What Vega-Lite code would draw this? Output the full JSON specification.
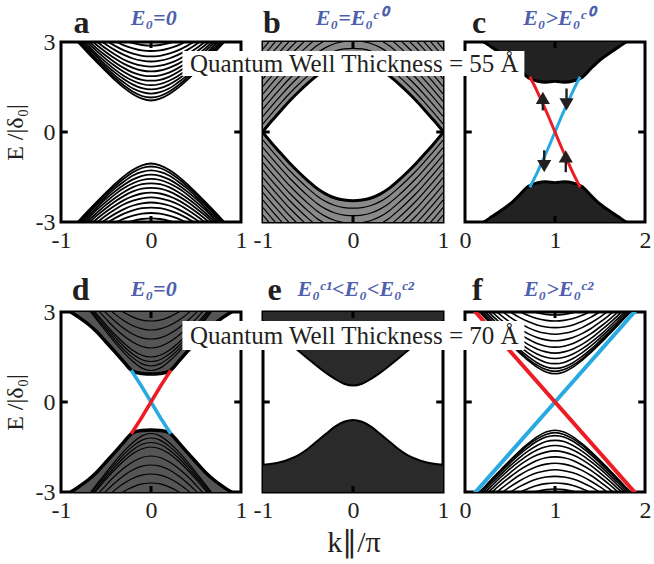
{
"$schema":"https://vega.github.io/schema/vega-lite/v6.json",
"background":"white",
"padding":{"left":1,"top":5,"right":0,"bottom":0},
"config":{
 "view":{"stroke":"black","strokeWidth":3},
 "font":"Liberation Serif",
 "axis":{"ticks":false,"domain":false,"grid":false,"labelFont":"Liberation Serif","labelFontSize":24,"labelColor":"#231f20","labelPadding":6,"labelFlush":false,"labelOverlap":false,"titleFont":"Liberation Serif","titleFontSize":24,"titleFontWeight":"normal","titleColor":"#231f20","titlePadding":8}
},
"datasets":{
"a":[
{"k":-0.9,"c0":3.28,"c1":3.31,"v0":-3.28,"v1":-3.31},
{"k":-0.8,"c0":2.95,"c1":2.99,"c2":3.04,"c3":3.1,"c4":3.17,"c5":3.25,"v0":-2.95,"v1":-2.99,"v2":-3.04,"v3":-3.1,"v4":-3.17,"v5":-3.25},
{"k":-0.7,"c0":2.63,"c1":2.68,"c2":2.73,"c3":2.8,"c4":2.88,"c5":2.96,"c6":3.05,"c7":3.15,"v0":-2.63,"v1":-2.68,"v2":-2.73,"v3":-2.8,"v4":-2.88,"v5":-2.96,"v6":-3.05,"v7":-3.15},
{"k":-0.6,"c0":2.32,"c1":2.37,"c2":2.43,"c3":2.51,"c4":2.59,"c5":2.69,"c6":2.78,"c7":2.89,"c8":3.01,"c9":3.13,"v0":-2.32,"v1":-2.37,"v2":-2.43,"v3":-2.51,"v4":-2.59,"v5":-2.69,"v6":-2.78,"v7":-2.89,"v8":-3.01,"v9":-3.13},
{"k":-0.5,"c0":2.02,"c1":2.07,"c2":2.15,"c3":2.23,"c4":2.33,"c5":2.43,"c6":2.54,"c7":2.66,"c8":2.78,"c9":2.92,"c10":3.05,"v0":-2.02,"v1":-2.07,"v2":-2.15,"v3":-2.23,"v4":-2.33,"v5":-2.43,"v6":-2.54,"v7":-2.66,"v8":-2.78,"v9":-2.92,"v10":-3.05},
{"k":-0.4,"c0":1.73,"c1":1.8,"c2":1.88,"c3":1.98,"c4":2.08,"c5":2.2,"c6":2.32,"c7":2.45,"c8":2.58,"c9":2.73,"c10":2.87,"c11":3.03,"v0":-1.73,"v1":-1.8,"v2":-1.88,"v3":-1.98,"v4":-2.08,"v5":-2.2,"v6":-2.32,"v7":-2.45,"v8":-2.58,"v9":-2.73,"v10":-2.87,"v11":-3.03},
{"k":-0.3,"c0":1.47,"c1":1.55,"c2":1.65,"c3":1.76,"c4":1.87,"c5":2,"c6":2.13,"c7":2.27,"c8":2.41,"c9":2.57,"c10":2.72,"c11":2.89,"c12":3.06,"v0":-1.47,"v1":-1.55,"v2":-1.65,"v3":-1.76,"v4":-1.87,"v5":-2,"v6":-2.13,"v7":-2.27,"v8":-2.41,"v9":-2.57,"v10":-2.72,"v11":-2.89,"v12":-3.06},
{"k":-0.2,"c0":1.26,"c1":1.34,"c2":1.45,"c3":1.58,"c4":1.71,"c5":1.84,"c6":1.98,"c7":2.14,"c8":2.29,"c9":2.45,"c10":2.61,"c11":2.79,"c12":2.96,"v0":-1.26,"v1":-1.34,"v2":-1.45,"v3":-1.58,"v4":-1.71,"v5":-1.84,"v6":-1.98,"v7":-2.14,"v8":-2.29,"v9":-2.45,"v10":-2.61,"v11":-2.79,"v12":-2.96},
{"k":-0.1,"c0":1.11,"c1":1.2,"c2":1.33,"c3":1.46,"c4":1.6,"c5":1.74,"c6":1.89,"c7":2.05,"c8":2.21,"c9":2.38,"c10":2.54,"c11":2.72,"c12":2.9,"v0":-1.11,"v1":-1.2,"v2":-1.33,"v3":-1.46,"v4":-1.6,"v5":-1.74,"v6":-1.89,"v7":-2.05,"v8":-2.21,"v9":-2.38,"v10":-2.54,"v11":-2.72,"v12":-2.9},
{"k":0,"c0":1.05,"c1":1.15,"c2":1.28,"c3":1.42,"c4":1.56,"c5":1.71,"c6":1.86,"c7":2.02,"c8":2.18,"c9":2.35,"c10":2.52,"c11":2.7,"c12":2.88,"v0":-1.05,"v1":-1.15,"v2":-1.28,"v3":-1.42,"v4":-1.56,"v5":-1.71,"v6":-1.86,"v7":-2.02,"v8":-2.18,"v9":-2.35,"v10":-2.52,"v11":-2.7,"v12":-2.88},
{"k":0.1,"c0":1.11,"c1":1.2,"c2":1.33,"c3":1.46,"c4":1.6,"c5":1.74,"c6":1.89,"c7":2.05,"c8":2.21,"c9":2.38,"c10":2.54,"c11":2.72,"c12":2.9,"v0":-1.11,"v1":-1.2,"v2":-1.33,"v3":-1.46,"v4":-1.6,"v5":-1.74,"v6":-1.89,"v7":-2.05,"v8":-2.21,"v9":-2.38,"v10":-2.54,"v11":-2.72,"v12":-2.9},
{"k":0.2,"c0":1.26,"c1":1.34,"c2":1.45,"c3":1.58,"c4":1.71,"c5":1.84,"c6":1.98,"c7":2.14,"c8":2.29,"c9":2.45,"c10":2.61,"c11":2.79,"c12":2.96,"v0":-1.26,"v1":-1.34,"v2":-1.45,"v3":-1.58,"v4":-1.71,"v5":-1.84,"v6":-1.98,"v7":-2.14,"v8":-2.29,"v9":-2.45,"v10":-2.61,"v11":-2.79,"v12":-2.96},
{"k":0.3,"c0":1.47,"c1":1.55,"c2":1.65,"c3":1.76,"c4":1.87,"c5":2,"c6":2.13,"c7":2.27,"c8":2.41,"c9":2.57,"c10":2.72,"c11":2.89,"c12":3.06,"v0":-1.47,"v1":-1.55,"v2":-1.65,"v3":-1.76,"v4":-1.87,"v5":-2,"v6":-2.13,"v7":-2.27,"v8":-2.41,"v9":-2.57,"v10":-2.72,"v11":-2.89,"v12":-3.06},
{"k":0.4,"c0":1.73,"c1":1.8,"c2":1.88,"c3":1.98,"c4":2.08,"c5":2.2,"c6":2.32,"c7":2.45,"c8":2.58,"c9":2.73,"c10":2.87,"c11":3.03,"v0":-1.73,"v1":-1.8,"v2":-1.88,"v3":-1.98,"v4":-2.08,"v5":-2.2,"v6":-2.32,"v7":-2.45,"v8":-2.58,"v9":-2.73,"v10":-2.87,"v11":-3.03},
{"k":0.5,"c0":2.02,"c1":2.07,"c2":2.15,"c3":2.23,"c4":2.33,"c5":2.43,"c6":2.54,"c7":2.66,"c8":2.78,"c9":2.92,"c10":3.05,"v0":-2.02,"v1":-2.07,"v2":-2.15,"v3":-2.23,"v4":-2.33,"v5":-2.43,"v6":-2.54,"v7":-2.66,"v8":-2.78,"v9":-2.92,"v10":-3.05},
{"k":0.6,"c0":2.32,"c1":2.37,"c2":2.43,"c3":2.51,"c4":2.59,"c5":2.69,"c6":2.78,"c7":2.89,"c8":3.01,"c9":3.13,"v0":-2.32,"v1":-2.37,"v2":-2.43,"v3":-2.51,"v4":-2.59,"v5":-2.69,"v6":-2.78,"v7":-2.89,"v8":-3.01,"v9":-3.13},
{"k":0.7,"c0":2.63,"c1":2.68,"c2":2.73,"c3":2.8,"c4":2.88,"c5":2.96,"c6":3.05,"c7":3.15,"v0":-2.63,"v1":-2.68,"v2":-2.73,"v3":-2.8,"v4":-2.88,"v5":-2.96,"v6":-3.05,"v7":-3.15},
{"k":0.8,"c0":2.95,"c1":2.99,"c2":3.04,"c3":3.1,"c4":3.17,"c5":3.25,"v0":-2.95,"v1":-2.99,"v2":-3.04,"v3":-3.1,"v4":-3.17,"v5":-3.25},
{"k":0.9,"c0":3.28,"c1":3.31,"v0":-3.28,"v1":-3.31}
],
"b":[
{"k":-1,"v0":-0.02,"v1":-0.27,"v2":-0.52,"v3":-0.77,"v4":-1.02,"v5":-1.27,"v6":-1.52,"v7":-1.77,"v8":-2.02,"v9":-2.27,"v10":-2.52,"v11":-2.77,"c0":0.02,"c1":0.27,"c2":0.52,"c3":0.77,"c4":1.02,"c5":1.27,"c6":1.52,"c7":1.77,"c8":2.02,"c9":2.27,"c10":2.52,"c11":2.77},
{"k":-0.9,"v0":-0.38,"v1":-0.63,"v2":-0.88,"v3":-1.13,"v4":-1.38,"v5":-1.63,"v6":-1.88,"v7":-2.13,"v8":-2.38,"v9":-2.63,"v10":-2.88,"v11":-3.13,"c0":0.38,"c1":0.63,"c2":0.88,"c3":1.13,"c4":1.38,"c5":1.63,"c6":1.88,"c7":2.13,"c8":2.38,"c9":2.63,"c10":2.88,"c11":3.13},
{"k":-0.8,"v0":-0.72,"v1":-0.97,"v2":-1.22,"v3":-1.47,"v4":-1.72,"v5":-1.97,"v6":-2.22,"v7":-2.47,"v8":-2.72,"v9":-2.97,"v10":-3.22,"c0":0.72,"c1":0.97,"c2":1.22,"c3":1.47,"c4":1.72,"c5":1.97,"c6":2.22,"c7":2.47,"c8":2.72,"c9":2.97,"c10":3.22},
{"k":-0.7,"v0":-1.05,"v1":-1.3,"v2":-1.55,"v3":-1.8,"v4":-2.05,"v5":-2.3,"v6":-2.55,"v7":-2.8,"v8":-3.05,"v9":-3.3,"c0":1.05,"c1":1.3,"c2":1.55,"c3":1.8,"c4":2.05,"c5":2.3,"c6":2.55,"c7":2.8,"c8":3.05,"c9":3.3},
{"k":-0.6,"v0":-1.35,"v1":-1.6,"v2":-1.85,"v3":-2.1,"v4":-2.35,"v5":-2.6,"v6":-2.85,"v7":-3.1,"c0":1.35,"c1":1.6,"c2":1.85,"c3":2.1,"c4":2.35,"c5":2.6,"c6":2.85,"c7":3.1},
{"k":-0.5,"v0":-1.63,"v1":-1.88,"v2":-2.13,"v3":-2.38,"v4":-2.63,"v5":-2.88,"v6":-3.13,"c0":1.63,"c1":1.88,"c2":2.13,"c3":2.38,"c4":2.63,"c5":2.88,"c6":3.13},
{"k":-0.4,"v0":-1.88,"v1":-2.13,"v2":-2.38,"v3":-2.63,"v4":-2.88,"v5":-3.13,"c0":1.88,"c1":2.13,"c2":2.38,"c3":2.63,"c4":2.88,"c5":3.13},
{"k":-0.3,"v0":-2.07,"v1":-2.32,"v2":-2.57,"v3":-2.82,"v4":-3.07,"c0":2.07,"c1":2.32,"c2":2.57,"c3":2.82,"c4":3.07},
{"k":-0.2,"v0":-2.2,"v1":-2.45,"v2":-2.7,"v3":-2.95,"c0":2.2,"c1":2.45,"c2":2.7,"c3":2.95},
{"k":-0.1,"v0":-2.27,"v1":-2.52,"v2":-2.77,"v3":-3.02,"c0":2.27,"c1":2.52,"c2":2.77,"c3":3.02},
{"k":0,"v0":-2.29,"v1":-2.54,"v2":-2.79,"c0":2.29,"c1":2.54,"c2":2.79},
{"k":0.1,"v0":-2.27,"v1":-2.52,"v2":-2.77,"v3":-3.02,"c0":2.27,"c1":2.52,"c2":2.77,"c3":3.02},
{"k":0.2,"v0":-2.2,"v1":-2.45,"v2":-2.7,"v3":-2.95,"c0":2.2,"c1":2.45,"c2":2.7,"c3":2.95},
{"k":0.3,"v0":-2.07,"v1":-2.32,"v2":-2.57,"v3":-2.82,"v4":-3.07,"c0":2.07,"c1":2.32,"c2":2.57,"c3":2.82,"c4":3.07},
{"k":0.4,"v0":-1.88,"v1":-2.13,"v2":-2.38,"v3":-2.63,"v4":-2.88,"v5":-3.13,"c0":1.88,"c1":2.13,"c2":2.38,"c3":2.63,"c4":2.88,"c5":3.13},
{"k":0.5,"v0":-1.63,"v1":-1.88,"v2":-2.13,"v3":-2.38,"v4":-2.63,"v5":-2.88,"v6":-3.13,"c0":1.63,"c1":1.88,"c2":2.13,"c3":2.38,"c4":2.63,"c5":2.88,"c6":3.13},
{"k":0.6,"v0":-1.35,"v1":-1.6,"v2":-1.85,"v3":-2.1,"v4":-2.35,"v5":-2.6,"v6":-2.85,"v7":-3.1,"c0":1.35,"c1":1.6,"c2":1.85,"c3":2.1,"c4":2.35,"c5":2.6,"c6":2.85,"c7":3.1},
{"k":0.7,"v0":-1.05,"v1":-1.3,"v2":-1.55,"v3":-1.8,"v4":-2.05,"v5":-2.3,"v6":-2.55,"v7":-2.8,"v8":-3.05,"v9":-3.3,"c0":1.05,"c1":1.3,"c2":1.55,"c3":1.8,"c4":2.05,"c5":2.3,"c6":2.55,"c7":2.8,"c8":3.05,"c9":3.3},
{"k":0.8,"v0":-0.72,"v1":-0.97,"v2":-1.22,"v3":-1.47,"v4":-1.72,"v5":-1.97,"v6":-2.22,"v7":-2.47,"v8":-2.72,"v9":-2.97,"v10":-3.22,"c0":0.72,"c1":0.97,"c2":1.22,"c3":1.47,"c4":1.72,"c5":1.97,"c6":2.22,"c7":2.47,"c8":2.72,"c9":2.97,"c10":3.22},
{"k":0.9,"v0":-0.38,"v1":-0.63,"v2":-0.88,"v3":-1.13,"v4":-1.38,"v5":-1.63,"v6":-1.88,"v7":-2.13,"v8":-2.38,"v9":-2.63,"v10":-2.88,"v11":-3.13,"c0":0.38,"c1":0.63,"c2":0.88,"c3":1.13,"c4":1.38,"c5":1.63,"c6":1.88,"c7":2.13,"c8":2.38,"c9":2.63,"c10":2.88,"c11":3.13},
{"k":1,"v0":-0.02,"v1":-0.27,"v2":-0.52,"v3":-0.77,"v4":-1.02,"v5":-1.27,"v6":-1.52,"v7":-1.77,"v8":-2.02,"v9":-2.27,"v10":-2.52,"v11":-2.77,"c0":0.02,"c1":0.27,"c2":0.52,"c3":0.77,"c4":1.02,"c5":1.27,"c6":1.52,"c7":1.77,"c8":2.02,"c9":2.27,"c10":2.52,"c11":2.77}
],
"c":[
{"k":0,"c0":3.35,"v0":-3.35},{"k":0.1,"c0":3.2,"v0":-3.2},{"k":0.2,"c0":3.02,"v0":-3.02},{"k":0.3,"c0":2.82,"v0":-2.82},{"k":0.4,"c0":2.62,"v0":-2.62},{"k":0.5,"c0":2.4,"v0":-2.4},{"k":0.6,"c0":2.12,"v0":-2.12},{"k":0.7,"c0":1.82,"v0":-1.82},{"k":0.8,"c0":1.7,"v0":-1.7},{"k":0.9,"c0":1.66,"v0":-1.66},{"k":1,"c0":1.69,"v0":-1.69},{"k":1.1,"c0":1.66,"v0":-1.66},{"k":1.2,"c0":1.7,"v0":-1.7},{"k":1.3,"c0":1.82,"v0":-1.82},{"k":1.4,"c0":2.12,"v0":-2.12},{"k":1.5,"c0":2.4,"v0":-2.4},{"k":1.6,"c0":2.62,"v0":-2.62},{"k":1.7,"c0":2.82,"v0":-2.82},{"k":1.8,"c0":3.02,"v0":-3.02},{"k":1.9,"c0":3.2,"v0":-3.2},{"k":2,"c0":3.35,"v0":-3.35}
],
"ce":[
{"k":0.72,"r":1.84,"b":-1.84},{"k":0.79,"r":1.43,"b":-1.43},{"k":0.86,"r":0.97,"b":-0.97},{"k":0.93,"r":0.5,"b":-0.5},{"k":1,"r":0,"b":0},{"k":1.07,"r":-0.5,"b":0.5},{"k":1.14,"r":-0.97,"b":0.97},{"k":1.21,"r":-1.43,"b":1.43},{"k":1.28,"r":-1.84,"b":1.84}
],
"ca":[
{"k":0.865,"e":0.72,"e2":1.02,"h":1.14,"d":"up"},
{"k":1.128,"e":1.45,"e2":1.04,"h":0.92,"d":"down"},
{"k":0.88,"e":-0.61,"e2":-1.02,"h":-1.14,"d":"down"},
{"k":1.12,"e":-1.34,"e2":-0.93,"h":-0.81,"d":"up"}
],
"d":[
{"k":-1,"c0":3.2,"v0":-3.2},
{"k":-0.9,"c0":3.02,"v0":-3.02},
{"k":-0.8,"c0":2.82,"v0":-2.82},
{"k":-0.7,"c0":2.6,"c1":3.12,"c2":3.18,"c3":3.24,"c4":3.3,"v0":-2.6,"v1":-3.12,"v2":-3.18,"v3":-3.24,"v4":-3.3},
{"k":-0.6,"c0":2.33,"c1":2.73,"c2":2.79,"c3":2.86,"c4":2.93,"c5":3.1,"c6":3.28,"v0":-2.33,"v1":-2.73,"v2":-2.79,"v3":-2.86,"v4":-2.93,"v5":-3.1,"v6":-3.28},
{"k":-0.5,"c0":2,"c1":2.35,"c2":2.42,"c3":2.5,"c4":2.58,"c5":2.77,"c6":2.97,"c7":3.19,"v0":-2,"v1":-2.35,"v2":-2.42,"v3":-2.5,"v4":-2.58,"v5":-2.77,"v6":-2.97,"v7":-3.19},
{"k":-0.4,"c0":1.67,"c1":1.98,"c2":2.07,"c3":2.16,"c4":2.25,"c5":2.46,"c6":2.69,"c7":2.93,"c8":3.18,"v0":-1.67,"v1":-1.98,"v2":-2.07,"v3":-2.16,"v4":-2.25,"v5":-2.46,"v6":-2.69,"v7":-2.93,"v8":-3.18},
{"k":-0.3,"c0":1.33,"c1":1.64,"c2":1.74,"c3":1.85,"c4":1.96,"c5":2.2,"c6":2.45,"c7":2.71,"c8":2.98,"v0":-1.33,"v1":-1.64,"v2":-1.74,"v3":-1.85,"v4":-1.96,"v5":-2.2,"v6":-2.45,"v7":-2.71,"v8":-2.98},
{"k":-0.2,"c0":1.02,"c1":1.35,"c2":1.47,"c3":1.59,"c4":1.72,"c5":1.99,"c6":2.26,"c7":2.54,"c8":2.83,"v0":-1.02,"v1":-1.35,"v2":-1.47,"v3":-1.59,"v4":-1.72,"v5":-1.99,"v6":-2.26,"v7":-2.54,"v8":-2.83},
{"k":-0.1,"c0":0.95,"c1":1.13,"c2":1.27,"c3":1.41,"c4":1.56,"c5":1.85,"c6":2.14,"c7":2.44,"c8":2.73,"v0":-0.95,"v1":-1.13,"v2":-1.27,"v3":-1.41,"v4":-1.56,"v5":-1.85,"v6":-2.14,"v7":-2.44,"v8":-2.73},
{"k":0,"c0":0.93,"c1":1.05,"c2":1.2,"c3":1.35,"c4":1.5,"c5":1.8,"c6":2.1,"c7":2.4,"c8":2.7,"v0":-0.93,"v1":-1.05,"v2":-1.2,"v3":-1.35,"v4":-1.5,"v5":-1.8,"v6":-2.1,"v7":-2.4,"v8":-2.7},
{"k":0.1,"c0":0.95,"c1":1.13,"c2":1.27,"c3":1.41,"c4":1.56,"c5":1.85,"c6":2.14,"c7":2.44,"c8":2.73,"v0":-0.95,"v1":-1.13,"v2":-1.27,"v3":-1.41,"v4":-1.56,"v5":-1.85,"v6":-2.14,"v7":-2.44,"v8":-2.73},
{"k":0.2,"c0":1.02,"c1":1.35,"c2":1.47,"c3":1.59,"c4":1.72,"c5":1.99,"c6":2.26,"c7":2.54,"c8":2.83,"v0":-1.02,"v1":-1.35,"v2":-1.47,"v3":-1.59,"v4":-1.72,"v5":-1.99,"v6":-2.26,"v7":-2.54,"v8":-2.83},
{"k":0.3,"c0":1.33,"c1":1.64,"c2":1.74,"c3":1.85,"c4":1.96,"c5":2.2,"c6":2.45,"c7":2.71,"c8":2.98,"v0":-1.33,"v1":-1.64,"v2":-1.74,"v3":-1.85,"v4":-1.96,"v5":-2.2,"v6":-2.45,"v7":-2.71,"v8":-2.98},
{"k":0.4,"c0":1.67,"c1":1.98,"c2":2.07,"c3":2.16,"c4":2.25,"c5":2.46,"c6":2.69,"c7":2.93,"c8":3.18,"v0":-1.67,"v1":-1.98,"v2":-2.07,"v3":-2.16,"v4":-2.25,"v5":-2.46,"v6":-2.69,"v7":-2.93,"v8":-3.18},
{"k":0.5,"c0":2,"c1":2.35,"c2":2.42,"c3":2.5,"c4":2.58,"c5":2.77,"c6":2.97,"c7":3.19,"v0":-2,"v1":-2.35,"v2":-2.42,"v3":-2.5,"v4":-2.58,"v5":-2.77,"v6":-2.97,"v7":-3.19},
{"k":0.6,"c0":2.33,"c1":2.73,"c2":2.79,"c3":2.86,"c4":2.93,"c5":3.1,"c6":3.28,"v0":-2.33,"v1":-2.73,"v2":-2.79,"v3":-2.86,"v4":-2.93,"v5":-3.1,"v6":-3.28},
{"k":0.7,"c0":2.6,"c1":3.12,"c2":3.18,"c3":3.24,"c4":3.3,"v0":-2.6,"v1":-3.12,"v2":-3.18,"v3":-3.24,"v4":-3.3},
{"k":0.8,"c0":2.82,"v0":-2.82},
{"k":0.9,"c0":3.02,"v0":-3.02},
{"k":1,"c0":3.2,"v0":-3.2}
],
"de":[
{"k":-0.22,"r":-1.06,"b":1.06},{"k":-0.11,"r":-0.55,"b":0.55},{"k":0,"r":0,"b":0},{"k":0.11,"r":0.55,"b":-0.55},{"k":0.22,"r":1.06,"b":-1.06}
],
"e":[
{"k":-1,"c0":2.72,"v0":-2.09},{"k":-0.9,"c0":2.46,"v0":-2.06},{"k":-0.8,"c0":2.2,"v0":-2},{"k":-0.7,"c0":1.94,"v0":-1.9},{"k":-0.6,"c0":1.69,"v0":-1.76},{"k":-0.5,"c0":1.44,"v0":-1.56},{"k":-0.4,"c0":1.2,"v0":-1.31},{"k":-0.3,"c0":0.97,"v0":-1.06},{"k":-0.2,"c0":0.77,"v0":-0.82},{"k":-0.1,"c0":0.61,"v0":-0.66},{"k":0,"c0":0.55,"v0":-0.6},{"k":0.1,"c0":0.61,"v0":-0.66},{"k":0.2,"c0":0.77,"v0":-0.82},{"k":0.3,"c0":0.97,"v0":-1.06},{"k":0.4,"c0":1.2,"v0":-1.31},{"k":0.5,"c0":1.44,"v0":-1.56},{"k":0.6,"c0":1.69,"v0":-1.76},{"k":0.7,"c0":1.94,"v0":-1.9},{"k":0.8,"c0":2.2,"v0":-2},{"k":0.9,"c0":2.46,"v0":-2.06},{"k":1,"c0":2.72,"v0":-2.09}
],
"f":[
{"k":0.1,"c0":3.2,"c1":3.23,"c2":3.26,"v0":-3.2,"v1":-3.23,"v2":-3.26},
{"k":0.2,"c0":2.88,"c1":2.91,"c2":2.94,"c3":3.01,"c4":3.08,"c5":3.17,"c6":3.28,"v0":-2.88,"v1":-2.91,"v2":-2.94,"v3":-3.01,"v4":-3.08,"v5":-3.17,"v6":-3.28},
{"k":0.3,"c0":2.56,"c1":2.59,"c2":2.63,"c3":2.7,"c4":2.79,"c5":2.89,"c6":3,"c7":3.14,"v0":-2.56,"v1":-2.59,"v2":-2.63,"v3":-2.7,"v4":-2.79,"v5":-2.89,"v6":-3,"v7":-3.14},
{"k":0.4,"c0":2.25,"c1":2.28,"c2":2.33,"c3":2.41,"c4":2.5,"c5":2.61,"c6":2.74,"c7":2.89,"c8":3.05,"v0":-2.25,"v1":-2.28,"v2":-2.33,"v3":-2.41,"v4":-2.5,"v5":-2.61,"v6":-2.74,"v7":-2.89,"v8":-3.05},
{"k":0.5,"c0":1.94,"c1":1.98,"c2":2.04,"c3":2.13,"c4":2.23,"c5":2.36,"c6":2.5,"c7":2.66,"c8":2.83,"c9":3.01,"v0":-1.94,"v1":-1.98,"v2":-2.04,"v3":-2.13,"v4":-2.23,"v5":-2.36,"v6":-2.5,"v7":-2.66,"v8":-2.83,"v9":-3.01},
{"k":0.6,"c0":1.65,"c1":1.7,"c2":1.76,"c3":1.87,"c4":1.99,"c5":2.12,"c6":2.28,"c7":2.45,"c8":2.64,"c9":2.83,"c10":3.02,"v0":-1.65,"v1":-1.7,"v2":-1.76,"v3":-1.87,"v4":-1.99,"v5":-2.12,"v6":-2.28,"v7":-2.45,"v8":-2.64,"v9":-2.83,"v10":-3.02},
{"k":0.7,"c0":1.39,"c1":1.44,"c2":1.52,"c3":1.64,"c4":1.77,"c5":1.92,"c6":2.1,"c7":2.28,"c8":2.48,"c9":2.68,"c10":2.89,"c11":3.07,"v0":-1.39,"v1":-1.44,"v2":-1.52,"v3":-1.64,"v4":-1.77,"v5":-1.92,"v6":-2.1,"v7":-2.28,"v8":-2.48,"v9":-2.68,"v10":-2.89,"v11":-3.07},
{"k":0.8,"c0":1.16,"c1":1.23,"c2":1.31,"c3":1.45,"c4":1.6,"c5":1.77,"c6":1.95,"c7":2.15,"c8":2.36,"c9":2.57,"c10":2.78,"c11":2.98,"v0":-1.16,"v1":-1.23,"v2":-1.31,"v3":-1.45,"v4":-1.6,"v5":-1.77,"v6":-1.95,"v7":-2.15,"v8":-2.36,"v9":-2.57,"v10":-2.78,"v11":-2.98},
{"k":0.9,"c0":1,"c1":1.08,"c2":1.17,"c3":1.32,"c4":1.49,"c5":1.67,"c6":1.86,"c7":2.07,"c8":2.29,"c9":2.5,"c10":2.72,"c11":2.92,"v0":-1,"v1":-1.08,"v2":-1.17,"v3":-1.32,"v4":-1.49,"v5":-1.67,"v6":-1.86,"v7":-2.07,"v8":-2.29,"v9":-2.5,"v10":-2.72,"v11":-2.92},
{"k":1,"c0":0.94,"c1":1.02,"c2":1.12,"c3":1.28,"c4":1.45,"c5":1.63,"c6":1.83,"c7":2.04,"c8":2.26,"c9":2.48,"c10":2.7,"c11":2.9,"v0":-0.94,"v1":-1.02,"v2":-1.12,"v3":-1.28,"v4":-1.45,"v5":-1.63,"v6":-1.83,"v7":-2.04,"v8":-2.26,"v9":-2.48,"v10":-2.7,"v11":-2.9},
{"k":1.1,"c0":1,"c1":1.08,"c2":1.17,"c3":1.32,"c4":1.49,"c5":1.67,"c6":1.86,"c7":2.07,"c8":2.29,"c9":2.5,"c10":2.72,"c11":2.92,"v0":-1,"v1":-1.08,"v2":-1.17,"v3":-1.32,"v4":-1.49,"v5":-1.67,"v6":-1.86,"v7":-2.07,"v8":-2.29,"v9":-2.5,"v10":-2.72,"v11":-2.92},
{"k":1.2,"c0":1.16,"c1":1.23,"c2":1.31,"c3":1.45,"c4":1.6,"c5":1.77,"c6":1.95,"c7":2.15,"c8":2.36,"c9":2.57,"c10":2.78,"c11":2.98,"v0":-1.16,"v1":-1.23,"v2":-1.31,"v3":-1.45,"v4":-1.6,"v5":-1.77,"v6":-1.95,"v7":-2.15,"v8":-2.36,"v9":-2.57,"v10":-2.78,"v11":-2.98},
{"k":1.3,"c0":1.39,"c1":1.44,"c2":1.52,"c3":1.64,"c4":1.77,"c5":1.92,"c6":2.1,"c7":2.28,"c8":2.48,"c9":2.68,"c10":2.89,"c11":3.07,"v0":-1.39,"v1":-1.44,"v2":-1.52,"v3":-1.64,"v4":-1.77,"v5":-1.92,"v6":-2.1,"v7":-2.28,"v8":-2.48,"v9":-2.68,"v10":-2.89,"v11":-3.07},
{"k":1.4,"c0":1.65,"c1":1.7,"c2":1.76,"c3":1.87,"c4":1.99,"c5":2.12,"c6":2.28,"c7":2.45,"c8":2.64,"c9":2.83,"c10":3.02,"v0":-1.65,"v1":-1.7,"v2":-1.76,"v3":-1.87,"v4":-1.99,"v5":-2.12,"v6":-2.28,"v7":-2.45,"v8":-2.64,"v9":-2.83,"v10":-3.02},
{"k":1.5,"c0":1.94,"c1":1.98,"c2":2.04,"c3":2.13,"c4":2.23,"c5":2.36,"c6":2.5,"c7":2.66,"c8":2.83,"c9":3.01,"v0":-1.94,"v1":-1.98,"v2":-2.04,"v3":-2.13,"v4":-2.23,"v5":-2.36,"v6":-2.5,"v7":-2.66,"v8":-2.83,"v9":-3.01},
{"k":1.6,"c0":2.25,"c1":2.28,"c2":2.33,"c3":2.41,"c4":2.5,"c5":2.61,"c6":2.74,"c7":2.89,"c8":3.05,"v0":-2.25,"v1":-2.28,"v2":-2.33,"v3":-2.41,"v4":-2.5,"v5":-2.61,"v6":-2.74,"v7":-2.89,"v8":-3.05},
{"k":1.7,"c0":2.56,"c1":2.59,"c2":2.63,"c3":2.7,"c4":2.79,"c5":2.89,"c6":3,"c7":3.14,"v0":-2.56,"v1":-2.59,"v2":-2.63,"v3":-2.7,"v4":-2.79,"v5":-2.89,"v6":-3,"v7":-3.14},
{"k":1.8,"c0":2.88,"c1":2.91,"c2":2.94,"c3":3.01,"c4":3.08,"c5":3.17,"c6":3.28,"v0":-2.88,"v1":-2.91,"v2":-2.94,"v3":-3.01,"v4":-3.08,"v5":-3.17,"v6":-3.28},
{"k":1.9,"c0":3.2,"c1":3.23,"c2":3.26,"v0":-3.2,"v1":-3.23,"v2":-3.26}
],
"fe":[
{"k":0.1,"r":3.06,"b":-3.06},{"k":1,"r":0,"b":0},{"k":1.9,"r":-3.06,"b":3.06}
],
"one":[{}]
},
"columns":3,
"spacing":{"row":90,"column":22},
"bounds":"flush",
"concat":[
{"width":180,"height":180,"layer":[
 {"data":{"name":"a"},"transform":[{"fold":["c0","c1","c2","c3","c4","c5","c6","c7","c8","c9","c10","c11","c12","v0","v1","v2","v3","v4","v5","v6","v7","v8","v9","v10","v11","v12"],"as":["s","e"]}],"mark":{"type":"line","clip":true,"interpolate":"monotone","strokeWidth":1.8,"color":"black"},"encoding":{"x":{"field":"k","type":"quantitative","scale":{"domain":[-1,1]},"axis":{"values":[-1,0,1],"title":null,"labelExpr":"''+datum.value"}},"y":{"field":"e","type":"quantitative","scale":{"domain":[-3,3]},"axis":{"values":[-3,0,3],"title":"E /|δ₀|","labelExpr":"''+datum.value"}},"detail":{"field":"s","type":"nominal"}}},
 {"data":{"name":"one"},"mark":{"type":"rule","strokeWidth":3,"color":"black"},"encoding":{"x":{"datum":-1,"scale":{"domain":[-1,1]}},"x2":{"datum":-0.925},"y":{"datum":0,"scale":{"domain":[-3,3]}}}},
 {"data":{"name":"one"},"mark":{"type":"rule","strokeWidth":3,"color":"black"},"encoding":{"x":{"datum":0.925,"scale":{"domain":[-1,1]}},"x2":{"datum":1},"y":{"datum":0,"scale":{"domain":[-3,3]}}}},
 {"data":{"name":"one"},"mark":{"type":"rule","strokeWidth":3,"color":"black"},"encoding":{"x":{"datum":0,"scale":{"domain":[-1,1]}},"y":{"datum":3,"scale":{"domain":[-3,3]}},"y2":{"datum":2.8}}},
 {"data":{"name":"one"},"mark":{"type":"rule","strokeWidth":3,"color":"black"},"encoding":{"x":{"datum":0,"scale":{"domain":[-1,1]}},"y":{"datum":-3,"scale":{"domain":[-3,3]}},"y2":{"datum":-2.8}}},
 {"data":{"name":"one"},"mark":{"type":"text","text":"a","fontSize":32,"fontWeight":"bold","align":"left","baseline":"alphabetic","color":"#231f20"},"encoding":{"x":{"datum":-0.86,"scale":{"domain":[-1,1]}},"y":{"datum":3.3,"scale":{"domain":[-3,3]}}}},
 {"data":{"name":"one"},"mark":{"type":"text","text":"E₀=0","fontSize":22,"fontWeight":"bold","fontStyle":"italic","align":"center","baseline":"alphabetic","color":"#4e5fae"},"encoding":{"x":{"datum":0.03,"scale":{"domain":[-1,1]}},"y":{"datum":3.57,"scale":{"domain":[-3,3]}}}}
]},
{"width":180,"height":180,"layer":[
 {"data":{"name":"b"},"transform":[{"fold":["c0"],"as":["s","e"]}],"mark":{"type":"area","clip":true,"interpolate":"monotone","orient":"vertical","color":"#8a8a8a"},"encoding":{"x":{"field":"k","type":"quantitative","scale":{"domain":[-1,1]},"axis":{"values":[-1,0,1],"title":null,"labelExpr":"''+datum.value"}},"y":{"field":"e","type":"quantitative","scale":{"domain":[-3,3]},"axis":null},"y2":{"datum":3}}},
 {"data":{"name":"b"},"transform":[{"fold":["v0"],"as":["s","e"]}],"mark":{"type":"area","clip":true,"interpolate":"monotone","orient":"vertical","color":"#8a8a8a"},"encoding":{"x":{"field":"k","type":"quantitative","scale":{"domain":[-1,1]}},"y":{"field":"e","type":"quantitative","scale":{"domain":[-3,3]},"axis":null},"y2":{"datum":-3}}},
 {"data":{"name":"b"},"transform":[{"fold":["c0","c1","c2","c3","c4","c5","c6","c7","c8","c9","c10","c11","v0","v1","v2","v3","v4","v5","v6","v7","v8","v9","v10","v11"],"as":["s","e"]}],"mark":{"type":"line","clip":true,"interpolate":"monotone","strokeWidth":1.2,"color":"black"},"encoding":{"x":{"field":"k","type":"quantitative","scale":{"domain":[-1,1]}},"y":{"field":"e","type":"quantitative","scale":{"domain":[-3,3]},"axis":null},"detail":{"field":"s","type":"nominal"}}},
 {"data":{"name":"b"},"transform":[{"fold":["c0","v0"],"as":["s","e"]}],"mark":{"type":"line","clip":true,"interpolate":"monotone","strokeWidth":3,"color":"black"},"encoding":{"x":{"field":"k","type":"quantitative","scale":{"domain":[-1,1]}},"y":{"field":"e","type":"quantitative","scale":{"domain":[-3,3]},"axis":null},"detail":{"field":"s","type":"nominal"}}},
 {"data":{"name":"one"},"mark":{"type":"rule","strokeWidth":3,"color":"black"},"encoding":{"x":{"datum":-1,"scale":{"domain":[-1,1]}},"x2":{"datum":-0.925},"y":{"datum":0,"scale":{"domain":[-3,3]},"axis":null}}},
 {"data":{"name":"one"},"mark":{"type":"rule","strokeWidth":3,"color":"black"},"encoding":{"x":{"datum":0.925,"scale":{"domain":[-1,1]}},"x2":{"datum":1},"y":{"datum":0,"scale":{"domain":[-3,3]},"axis":null}}},
 {"data":{"name":"one"},"mark":{"type":"rule","strokeWidth":3,"color":"black"},"encoding":{"x":{"datum":0,"scale":{"domain":[-1,1]}},"y":{"datum":3,"scale":{"domain":[-3,3]},"axis":null},"y2":{"datum":2.8}}},
 {"data":{"name":"one"},"mark":{"type":"rule","strokeWidth":3,"color":"black"},"encoding":{"x":{"datum":0,"scale":{"domain":[-1,1]}},"y":{"datum":-3,"scale":{"domain":[-3,3]},"axis":null},"y2":{"datum":-2.8}}},
 {"data":{"name":"one"},"mark":{"type":"text","text":"b","fontSize":32,"fontWeight":"bold","align":"left","baseline":"alphabetic","color":"#231f20"},"encoding":{"x":{"datum":-1.0,"scale":{"domain":[-1,1]}},"y":{"datum":3.3,"scale":{"domain":[-3,3]},"axis":null}}},
 {"data":{"name":"one"},"mark":{"type":"text","text":"E₀=E₀ᶜ⁰","fontSize":22,"fontWeight":"bold","fontStyle":"italic","align":"center","baseline":"alphabetic","color":"#4e5fae"},"encoding":{"x":{"datum":-0.02,"scale":{"domain":[-1,1]}},"y":{"datum":3.57,"scale":{"domain":[-3,3]},"axis":null}}}
]},
{"width":180,"height":180,"layer":[
 {"data":{"name":"c"},"transform":[{"fold":["c0"],"as":["s","e"]}],"mark":{"type":"area","clip":true,"interpolate":"monotone","orient":"vertical","color":"#222222"},"encoding":{"x":{"field":"k","type":"quantitative","scale":{"domain":[0,2]},"axis":{"values":[0,1,2],"title":null,"labelExpr":"''+datum.value"}},"y":{"field":"e","type":"quantitative","scale":{"domain":[-3,3]},"axis":null},"y2":{"datum":3}}},
 {"data":{"name":"c"},"transform":[{"fold":["v0"],"as":["s","e"]}],"mark":{"type":"area","clip":true,"interpolate":"monotone","orient":"vertical","color":"#222222"},"encoding":{"x":{"field":"k","type":"quantitative","scale":{"domain":[0,2]}},"y":{"field":"e","type":"quantitative","scale":{"domain":[-3,3]},"axis":null},"y2":{"datum":-3}}},
 {"data":{"name":"c"},"transform":[{"fold":["c0","v0"],"as":["s","e"]}],"mark":{"type":"line","clip":true,"interpolate":"monotone","strokeWidth":3,"color":"black"},"encoding":{"x":{"field":"k","type":"quantitative","scale":{"domain":[0,2]}},"y":{"field":"e","type":"quantitative","scale":{"domain":[-3,3]},"axis":null},"detail":{"field":"s","type":"nominal"}}},
 {"data":{"name":"ce"},"transform":[{"fold":["b","r"],"as":["s","e"]}],"mark":{"type":"line","clip":true,"interpolate":"monotone","strokeWidth":3},"encoding":{"x":{"field":"k","type":"quantitative","scale":{"domain":[0,2]}},"y":{"field":"e","type":"quantitative","scale":{"domain":[-3,3]},"axis":null},"color":{"field":"s","type":"nominal","scale":{"domain":["b","r"],"range":["#29a9e1","#ed1c24"]},"legend":null}}},
 {"data":{"name":"ca"},"mark":{"type":"rule","strokeWidth":2.4,"color":"#231f20"},"encoding":{"x":{"field":"k","type":"quantitative","scale":{"domain":[0,2]}},"y":{"field":"e","type":"quantitative","scale":{"domain":[-3,3]},"axis":null},"y2":{"field":"e2"}}},
 {"data":{"name":"ca"},"mark":{"type":"point","filled":true,"size":200,"opacity":1,"color":"#231f20"},"encoding":{"x":{"field":"k","type":"quantitative","scale":{"domain":[0,2]}},"y":{"field":"h","type":"quantitative","scale":{"domain":[-3,3]},"axis":null},"shape":{"field":"d","type":"nominal","scale":{"domain":["up","down"],"range":["triangle-up","triangle-down"]},"legend":null}}},
 {"data":{"name":"one"},"mark":{"type":"rule","strokeWidth":3,"color":"black"},"encoding":{"x":{"datum":0,"scale":{"domain":[0,2]}},"x2":{"datum":0.075},"y":{"datum":0,"scale":{"domain":[-3,3]},"axis":null}}},
 {"data":{"name":"one"},"mark":{"type":"rule","strokeWidth":3,"color":"black"},"encoding":{"x":{"datum":1.925,"scale":{"domain":[0,2]}},"x2":{"datum":2},"y":{"datum":0,"scale":{"domain":[-3,3]},"axis":null}}},
 {"data":{"name":"one"},"mark":{"type":"rule","strokeWidth":3,"color":"black"},"encoding":{"x":{"datum":1,"scale":{"domain":[0,2]}},"y":{"datum":3,"scale":{"domain":[-3,3]},"axis":null},"y2":{"datum":2.8}}},
 {"data":{"name":"one"},"mark":{"type":"rule","strokeWidth":3,"color":"black"},"encoding":{"x":{"datum":1,"scale":{"domain":[0,2]}},"y":{"datum":-3,"scale":{"domain":[-3,3]},"axis":null},"y2":{"datum":-2.8}}},
 {"data":{"name":"one"},"mark":{"type":"text","text":"c","fontSize":32,"fontWeight":"bold","align":"left","baseline":"alphabetic","color":"#231f20"},"encoding":{"x":{"datum":0.078,"scale":{"domain":[0,2]}},"y":{"datum":3.3,"scale":{"domain":[-3,3]},"axis":null}}},
 {"data":{"name":"one"},"mark":{"type":"text","text":"E₀>E₀ᶜ⁰","fontSize":22,"fontWeight":"bold","fontStyle":"italic","align":"center","baseline":"alphabetic","color":"#4e5fae"},"encoding":{"x":{"datum":1.04,"scale":{"domain":[0,2]}},"y":{"datum":3.57,"scale":{"domain":[-3,3]},"axis":null}}},
 {"data":{"name":"one"},"mark":{"type":"rect","color":"white","clip":false},"encoding":{"x":{"datum":-3.14,"scale":{"domain":[0,2]}},"x2":{"datum":0.66},"y":{"datum":2.7,"scale":{"domain":[-3,3]},"axis":null},"y2":{"datum":1.87}}},
 {"data":{"name":"one"},"mark":{"type":"text","text":"Quantum Well Thickness = 55 Å","fontSize":25,"align":"center","baseline":"middle","color":"#231f20"},"encoding":{"x":{"datum":-1.23,"scale":{"domain":[0,2]}},"y":{"datum":2.28,"scale":{"domain":[-3,3]},"axis":null}}}
]},
{"width":180,"height":180,"layer":[
 {"data":{"name":"d"},"transform":[{"fold":["c0"],"as":["s","e"]}],"mark":{"type":"area","clip":true,"interpolate":"monotone","orient":"vertical","color":"#555555"},"encoding":{"x":{"field":"k","type":"quantitative","scale":{"domain":[-1,1]},"axis":{"values":[-1,0,1],"title":null,"labelExpr":"''+datum.value"}},"y":{"field":"e","type":"quantitative","scale":{"domain":[-3,3]},"axis":{"values":[-3,0,3],"title":"E /|δ₀|","labelExpr":"''+datum.value"}},"y2":{"datum":3}}},
 {"data":{"name":"d"},"transform":[{"fold":["v0"],"as":["s","e"]}],"mark":{"type":"area","clip":true,"interpolate":"monotone","orient":"vertical","color":"#555555"},"encoding":{"x":{"field":"k","type":"quantitative","scale":{"domain":[-1,1]}},"y":{"field":"e","type":"quantitative","scale":{"domain":[-3,3]}},"y2":{"datum":-3}}},
 {"data":{"name":"d"},"transform":[{"fold":["c1","c2","c3","c4","c5","c6","c7","c8","v1","v2","v3","v4","v5","v6","v7","v8"],"as":["s","e"]}],"mark":{"type":"line","clip":true,"interpolate":"monotone","strokeWidth":1.2,"color":"black"},"encoding":{"x":{"field":"k","type":"quantitative","scale":{"domain":[-1,1]}},"y":{"field":"e","type":"quantitative","scale":{"domain":[-3,3]}},"detail":{"field":"s","type":"nominal"}}},
 {"data":{"name":"d"},"transform":[{"fold":["c0","v0"],"as":["s","e"]}],"mark":{"type":"line","clip":true,"interpolate":"monotone","strokeWidth":3.5,"color":"black"},"encoding":{"x":{"field":"k","type":"quantitative","scale":{"domain":[-1,1]}},"y":{"field":"e","type":"quantitative","scale":{"domain":[-3,3]}},"detail":{"field":"s","type":"nominal"}}},
 {"data":{"name":"de"},"transform":[{"fold":["b","r"],"as":["s","e"]}],"mark":{"type":"line","clip":true,"strokeWidth":3.5},"encoding":{"x":{"field":"k","type":"quantitative","scale":{"domain":[-1,1]}},"y":{"field":"e","type":"quantitative","scale":{"domain":[-3,3]}},"color":{"field":"s","type":"nominal","scale":{"domain":["b","r"],"range":["#29a9e1","#ed1c24"]},"legend":null}}},
 {"data":{"name":"one"},"mark":{"type":"rule","strokeWidth":3,"color":"black"},"encoding":{"x":{"datum":-1,"scale":{"domain":[-1,1]}},"x2":{"datum":-0.925},"y":{"datum":0,"scale":{"domain":[-3,3]}}}},
 {"data":{"name":"one"},"mark":{"type":"rule","strokeWidth":3,"color":"black"},"encoding":{"x":{"datum":0.925,"scale":{"domain":[-1,1]}},"x2":{"datum":1},"y":{"datum":0,"scale":{"domain":[-3,3]}}}},
 {"data":{"name":"one"},"mark":{"type":"rule","strokeWidth":3,"color":"black"},"encoding":{"x":{"datum":0,"scale":{"domain":[-1,1]}},"y":{"datum":3,"scale":{"domain":[-3,3]}},"y2":{"datum":2.8}}},
 {"data":{"name":"one"},"mark":{"type":"rule","strokeWidth":3,"color":"black"},"encoding":{"x":{"datum":0,"scale":{"domain":[-1,1]}},"y":{"datum":-3,"scale":{"domain":[-3,3]}},"y2":{"datum":-2.8}}},
 {"data":{"name":"one"},"mark":{"type":"text","text":"d","fontSize":32,"fontWeight":"bold","align":"left","baseline":"alphabetic","color":"#231f20"},"encoding":{"x":{"datum":-0.88,"scale":{"domain":[-1,1]}},"y":{"datum":3.4,"scale":{"domain":[-3,3]}}}},
 {"data":{"name":"one"},"mark":{"type":"text","text":"E₀=0","fontSize":22,"fontWeight":"bold","fontStyle":"italic","align":"center","baseline":"alphabetic","color":"#4e5fae"},"encoding":{"x":{"datum":0.03,"scale":{"domain":[-1,1]}},"y":{"datum":3.53,"scale":{"domain":[-3,3]}}}}
]},
{"width":180,"height":180,"layer":[
 {"data":{"name":"e"},"transform":[{"fold":["c0"],"as":["s","e"]}],"mark":{"type":"area","clip":true,"interpolate":"monotone","orient":"vertical","color":"#2a2a2a"},"encoding":{"x":{"field":"k","type":"quantitative","scale":{"domain":[-1,1]},"axis":{"values":[-1,0,1],"title":null,"labelExpr":"''+datum.value"}},"y":{"field":"e","type":"quantitative","scale":{"domain":[-3,3]},"axis":null},"y2":{"datum":3}}},
 {"data":{"name":"e"},"transform":[{"fold":["v0"],"as":["s","e"]}],"mark":{"type":"area","clip":true,"interpolate":"monotone","orient":"vertical","color":"#2a2a2a"},"encoding":{"x":{"field":"k","type":"quantitative","scale":{"domain":[-1,1]}},"y":{"field":"e","type":"quantitative","scale":{"domain":[-3,3]},"axis":null},"y2":{"datum":-3}}},
 {"data":{"name":"e"},"transform":[{"fold":["c0","v0"],"as":["s","e"]}],"mark":{"type":"line","clip":true,"interpolate":"monotone","strokeWidth":2,"color":"black"},"encoding":{"x":{"field":"k","type":"quantitative","scale":{"domain":[-1,1]}},"y":{"field":"e","type":"quantitative","scale":{"domain":[-3,3]},"axis":null},"detail":{"field":"s","type":"nominal"}}},
 {"data":{"name":"one"},"mark":{"type":"rule","strokeWidth":3,"color":"black"},"encoding":{"x":{"datum":-1,"scale":{"domain":[-1,1]}},"x2":{"datum":-0.925},"y":{"datum":0,"scale":{"domain":[-3,3]},"axis":null}}},
 {"data":{"name":"one"},"mark":{"type":"rule","strokeWidth":3,"color":"black"},"encoding":{"x":{"datum":0.925,"scale":{"domain":[-1,1]}},"x2":{"datum":1},"y":{"datum":0,"scale":{"domain":[-3,3]},"axis":null}}},
 {"data":{"name":"one"},"mark":{"type":"rule","strokeWidth":3,"color":"black"},"encoding":{"x":{"datum":0,"scale":{"domain":[-1,1]}},"y":{"datum":3,"scale":{"domain":[-3,3]},"axis":null},"y2":{"datum":2.8}}},
 {"data":{"name":"one"},"mark":{"type":"rule","strokeWidth":3,"color":"black"},"encoding":{"x":{"datum":0,"scale":{"domain":[-1,1]}},"y":{"datum":-3,"scale":{"domain":[-3,3]},"axis":null},"y2":{"datum":-2.8}}},
 {"data":{"name":"one"},"mark":{"type":"text","text":"e","fontSize":32,"fontWeight":"bold","align":"left","baseline":"alphabetic","color":"#231f20"},"encoding":{"x":{"datum":-0.95,"scale":{"domain":[-1,1]}},"y":{"datum":3.4,"scale":{"domain":[-3,3]},"axis":null}}},
 {"data":{"name":"one"},"mark":{"type":"text","text":"E₀ᶜ¹<E₀<E₀ᶜ²","fontSize":22,"fontWeight":"bold","fontStyle":"italic","align":"center","baseline":"alphabetic","color":"#4e5fae"},"encoding":{"x":{"datum":0.03,"scale":{"domain":[-1,1]}},"y":{"datum":3.53,"scale":{"domain":[-3,3]},"axis":null}}},
 {"data":{"name":"one"},"mark":{"type":"text","text":"k∥/π","fontSize":30,"align":"center","baseline":"middle","color":"#231f20"},"encoding":{"x":{"datum":0.01,"scale":{"domain":[-1,1]}},"y":{"datum":-4.7,"scale":{"domain":[-3,3]},"axis":null}}}
]},
{"width":180,"height":180,"layer":[
 {"data":{"name":"f"},"transform":[{"fold":["c0","c1","c2","c3","c4","c5","c6","c7","c8","c9","c10","c11","v0","v1","v2","v3","v4","v5","v6","v7","v8","v9","v10","v11"],"as":["s","e"]}],"mark":{"type":"line","clip":true,"interpolate":"monotone","strokeWidth":1.6,"color":"black"},"encoding":{"x":{"field":"k","type":"quantitative","scale":{"domain":[0,2]},"axis":{"values":[0,1,2],"title":null,"labelExpr":"''+datum.value"}},"y":{"field":"e","type":"quantitative","scale":{"domain":[-3,3]},"axis":null},"detail":{"field":"s","type":"nominal"}}},
 {"data":{"name":"fe"},"transform":[{"fold":["b","r"],"as":["s","e"]}],"mark":{"type":"line","clip":true,"strokeWidth":4},"encoding":{"x":{"field":"k","type":"quantitative","scale":{"domain":[0,2]}},"y":{"field":"e","type":"quantitative","scale":{"domain":[-3,3]},"axis":null},"color":{"field":"s","type":"nominal","scale":{"domain":["b","r"],"range":["#29a9e1","#ed1c24"]},"legend":null}}},
 {"data":{"name":"one"},"mark":{"type":"rule","strokeWidth":3,"color":"black"},"encoding":{"x":{"datum":0,"scale":{"domain":[0,2]}},"x2":{"datum":0.075},"y":{"datum":0,"scale":{"domain":[-3,3]},"axis":null}}},
 {"data":{"name":"one"},"mark":{"type":"rule","strokeWidth":3,"color":"black"},"encoding":{"x":{"datum":1.925,"scale":{"domain":[0,2]}},"x2":{"datum":2},"y":{"datum":0,"scale":{"domain":[-3,3]},"axis":null}}},
 {"data":{"name":"one"},"mark":{"type":"rule","strokeWidth":3,"color":"black"},"encoding":{"x":{"datum":1,"scale":{"domain":[0,2]}},"y":{"datum":3,"scale":{"domain":[-3,3]},"axis":null},"y2":{"datum":2.8}}},
 {"data":{"name":"one"},"mark":{"type":"rule","strokeWidth":3,"color":"black"},"encoding":{"x":{"datum":1,"scale":{"domain":[0,2]}},"y":{"datum":-3,"scale":{"domain":[-3,3]},"axis":null},"y2":{"datum":-2.8}}},
 {"data":{"name":"one"},"mark":{"type":"text","text":"f","fontSize":32,"fontWeight":"bold","align":"left","baseline":"alphabetic","color":"#231f20"},"encoding":{"x":{"datum":0.078,"scale":{"domain":[0,2]}},"y":{"datum":3.4,"scale":{"domain":[-3,3]},"axis":null}}},
 {"data":{"name":"one"},"mark":{"type":"text","text":"E₀>E₀ᶜ²","fontSize":22,"fontWeight":"bold","fontStyle":"italic","align":"center","baseline":"alphabetic","color":"#4e5fae"},"encoding":{"x":{"datum":1.04,"scale":{"domain":[0,2]}},"y":{"datum":3.53,"scale":{"domain":[-3,3]},"axis":null}}},
 {"data":{"name":"one"},"mark":{"type":"rect","color":"white","clip":false},"encoding":{"x":{"datum":-3.14,"scale":{"domain":[0,2]}},"x2":{"datum":0.66},"y":{"datum":2.7,"scale":{"domain":[-3,3]},"axis":null},"y2":{"datum":1.73}}},
 {"data":{"name":"one"},"mark":{"type":"text","text":"Quantum Well Thickness = 70 Å","fontSize":25,"align":"center","baseline":"middle","color":"#231f20"},"encoding":{"x":{"datum":-1.23,"scale":{"domain":[0,2]}},"y":{"datum":2.2,"scale":{"domain":[-3,3]},"axis":null}}}
]}
]
}
